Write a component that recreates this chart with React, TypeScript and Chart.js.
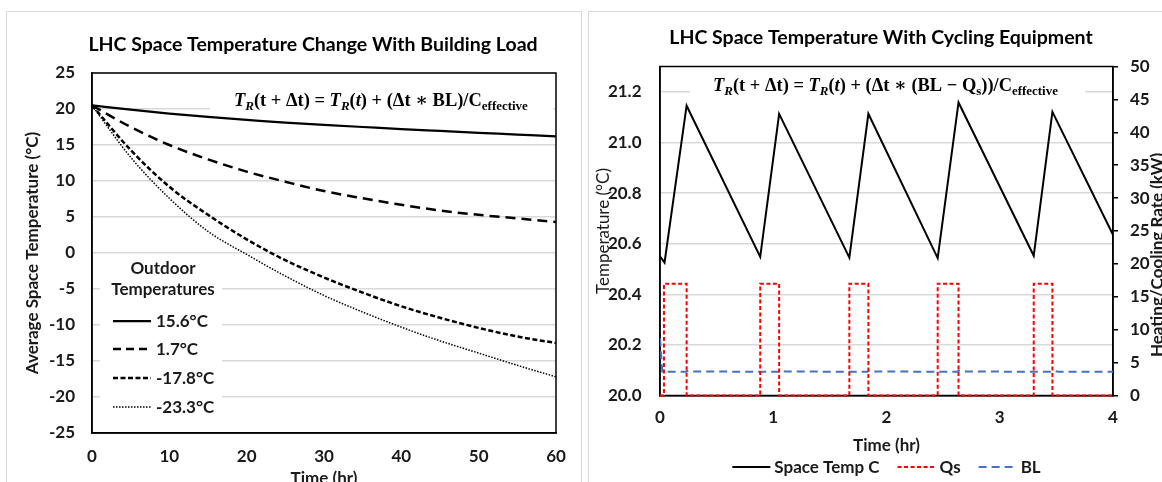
import React, { useEffect, useRef } from 'react';
import { Chart, registerables } from 'chart.js';

Chart.register(...registerables);

// ---------- Left chart data ----------
const loadTime = [0, 5, 10, 15, 20, 25, 30, 35, 40, 45, 50, 55, 60];
const temp156 = [20.5, 19.9, 19.35, 18.9, 18.5, 18.1, 17.8, 17.5, 17.2, 16.95, 16.7, 16.45, 16.2];
const temp17 = [20.5, 17.5, 15.0, 13.0, 11.3, 9.9, 8.6, 7.6, 6.7, 5.9, 5.3, 4.8, 4.3];
const temp178 = [20.5, 14.3, 9.2, 5.3, 1.9, -1.0, -3.4, -5.5, -7.4, -9.0, -10.4, -11.6, -12.5];
const temp233 = [20.5, 13.3, 7.6, 3.0, -0.2, -3.2, -5.9, -8.2, -10.3, -12.2, -13.9, -15.6, -17.2];
const outdoorLabels = ['15.6°C', '1.7°C', '-17.8°C', '-23.3°C'];

// ---------- Right chart data ----------
const cycTime = [0, 0.04, 0.235, 0.885, 1.052, 1.672, 1.84, 2.452, 2.636, 3.3, 3.465, 4.0];
const cycTemp = [20.55, 20.525, 21.145, 20.548, 21.113, 20.545, 21.113, 20.543, 21.158, 20.552, 21.121, 20.635];
const qsTime = [0, 0.035, 0.035, 0.235, 0.235, 0.885, 0.885, 1.052, 1.052, 1.672, 1.672, 1.84, 1.84, 2.452, 2.452, 2.636, 2.636, 3.3, 3.3, 3.465, 3.465, 4.0];
const qsRate = [0, 0, 17, 17, 0, 0, 17, 17, 0, 0, 17, 17, 0, 0, 17, 17, 0, 0, 17, 17, 0, 0];
const blTime = [0, 0.02, 0.23, 0.25, 0.3, 1.04, 1.06, 1.11, 1.83, 1.85, 1.9, 2.62, 2.64, 2.69, 3.45, 3.47, 3.52, 4.0];
const blRate = [8.7, 3.6, 3.6, 3.8, 3.65, 3.6, 3.8, 3.65, 3.6, 3.8, 3.65, 3.6, 3.8, 3.65, 3.6, 3.75, 3.6, 3.6];

const leftTitle = 'LHC Space Temperature Change With Building Load';
const rightTitle = 'LHC Space Temperature With Cycling Equipment';

const FONT = 'Lato, "Open Sans", sans-serif';
const SERIF = '"Liberation Serif", "DejaVu Serif", serif';
const TXT = '#1a1a1a';
const TITLE_SIZE = 19.5;
const LABEL_SIZE = 17;

const xy = (xs: number[], ys: number[]) => xs.map((x, i) => ({ x, y: ys[i] }));

type Seg = { t: string; i?: boolean; s?: boolean };

function richWidth(ctx: CanvasRenderingContext2D, segs: Seg[], size: number) {
  let w = 0;
  for (const g of segs) {
    const fs = g.s ? size * 0.7 : size;
    ctx.font = `${g.i ? 'italic ' : ''}bold ${fs}px ${SERIF}`;
    w += ctx.measureText(g.t).width;
  }
  return w;
}

function drawRich(ctx: CanvasRenderingContext2D, segs: Seg[], x: number, base: number, targetW: number) {
  const size = 16 * targetW / richWidth(ctx, segs, 16);
  let cx = x;
  ctx.textAlign = 'left';
  ctx.textBaseline = 'alphabetic';
  ctx.fillStyle = '#000';
  for (const g of segs) {
    const fs = g.s ? size * 0.7 : size;
    ctx.font = `${g.i ? 'italic ' : ''}bold ${fs}px ${SERIF}`;
    ctx.fillText(g.t, cx, base + (g.s ? size * 0.22 : 0));
    cx += ctx.measureText(g.t).width;
  }
}

const leftFormula: Seg[] = [
  { t: 'T', i: true }, { t: 'R', i: true, s: true }, { t: '(t + Δt) = ' },
  { t: 'T', i: true }, { t: 'R', i: true, s: true }, { t: '(' }, { t: 't', i: true },
  { t: ') + (Δt ∗ BL)/C' }, { t: 'effective', s: true },
];
const rightFormula: Seg[] = [
  { t: 'T', i: true }, { t: 'R', i: true, s: true }, { t: '(t + Δt) = ' },
  { t: 'T', i: true }, { t: 'R', i: true, s: true }, { t: '(' }, { t: 't', i: true },
  { t: ') + (Δt ∗ (BL − Q' }, { t: 's', s: true }, { t: '))/C' }, { t: 'effective', s: true },
];

const tickFont = { family: FONT, size: LABEL_SIZE, weight: 'bold' as const };

const leftDecor = {
  id: 'leftDecor',
  beforeDatasetsDraw(chart: any) {
    const { ctx, chartArea: a } = chart;
    ctx.save();
    ctx.fillStyle = '#fff';
    ctx.fillRect(204, 80, 343, 26);
    ctx.fillRect(94, 245, 122, 170);
    ctx.strokeStyle = '#000';
    ctx.lineWidth = 1.5;
    ctx.strokeRect(a.left, a.top, a.right - a.left, a.bottom - a.top);
    ctx.restore();
  },
  afterDraw(chart: any) {
    const { ctx } = chart;
    ctx.save();
    ctx.fillStyle = '#000';
    ctx.font = `bold ${TITLE_SIZE}px ${FONT}`;
    ctx.textAlign = 'center';
    ctx.textBaseline = 'middle';
    ctx.fillText(leftTitle, 307, 34);
    drawRich(ctx, leftFormula, 228, 95, 294);
    ctx.font = `bold ${LABEL_SIZE}px ${FONT}`;
    ctx.fillStyle = TXT;
    ctx.textAlign = 'center';
    ctx.textBaseline = 'middle';
    ctx.fillText('Outdoor', 157, 258);
    ctx.fillText('Temperatures', 157, 279);
    const ys = [310, 338, 367, 396];
    chart.data.datasets.forEach((d: any, i: number) => {
      ctx.strokeStyle = d.borderColor;
      ctx.lineWidth = d.borderWidth;
      ctx.setLineDash(d.legendDash || d.borderDash || []);
      ctx.beginPath();
      ctx.moveTo(107, ys[i]);
      ctx.lineTo(145, ys[i]);
      ctx.stroke();
      ctx.setLineDash([]);
      ctx.textAlign = 'left';
      ctx.fillText(d.label, 150, ys[i] + 1);
    });
    ctx.restore();
  },
};

const rightDecor = {
  id: 'rightDecor',
  beforeDatasetsDraw(chart: any) {
    const { ctx, chartArea: a } = chart;
    ctx.save();
    ctx.fillStyle = '#fff';
    ctx.fillRect(102, 63, 395, 26);
    ctx.strokeStyle = '#000';
    ctx.lineWidth = 1.5;
    ctx.strokeRect(a.left, a.top, a.right - a.left, a.bottom - a.top);
    ctx.restore();
  },
  afterDraw(chart: any) {
    const { ctx, chartArea: a } = chart;
    ctx.save();
    ctx.fillStyle = '#000';
    ctx.font = `bold ${TITLE_SIZE}px ${FONT}`;
    ctx.textAlign = 'center';
    ctx.textBaseline = 'middle';
    ctx.fillText(rightTitle, 293, 27);
    drawRich(ctx, rightFormula, 125, 80, 345);

    // right axis title (rotated, partly cut by the page edge)
    ctx.save();
    ctx.translate(570, 244);
    ctx.rotate(-Math.PI / 2);
    ctx.font = `bold ${LABEL_SIZE}px ${FONT}`;
    ctx.fillStyle = TXT;
    ctx.textAlign = 'center';
    ctx.textBaseline = 'middle';
    ctx.fillText('Heating/Cooling Rate (kW)', 0, 0);
    ctx.restore();

    // legend
    ctx.font = `bold ${LABEL_SIZE}px ${FONT}`;
    ctx.textBaseline = 'middle';
    ctx.textAlign = 'left';
    const ds = chart.data.datasets;
    const sample = 38, gapText = 4, gapItem = 18;
    let total = 0;
    ds.forEach((d: any, i: number) => {
      total += sample + gapText + ctx.measureText(d.label).width + (i < ds.length - 1 ? gapItem : 0);
    });
    let x = (a.left + a.right) / 2 - total / 2;
    const y = 456;
    ds.forEach((d: any) => {
      ctx.strokeStyle = d.borderColor;
      ctx.lineWidth = d.borderWidth;
      ctx.setLineDash(d.borderDash || []);
      ctx.beginPath();
      ctx.moveTo(x, y);
      ctx.lineTo(x + sample, y);
      ctx.stroke();
      ctx.setLineDash([]);
      x += sample + gapText;
      ctx.fillStyle = TXT;
      ctx.fillText(d.label, x, y + 1);
      x += ctx.measureText(d.label).width + gapItem;
    });
    ctx.restore();
  },
};

function leftConfig(): any {
  return {
    type: 'line',
    data: {
      datasets: [
        { label: outdoorLabels[0], data: xy(loadTime, temp156), borderColor: '#000', borderWidth: 2.25, borderDash: [] },
        { label: outdoorLabels[1], data: xy(loadTime, temp17), borderColor: '#000', borderWidth: 2.5, borderDash: [10, 6], legendDash: [8, 5] },
        { label: outdoorLabels[2], data: xy(loadTime, temp178), borderColor: '#000', borderWidth: 2.5, borderDash: [5, 2.5] },
        { label: outdoorLabels[3], data: xy(loadTime, temp233), borderColor: '#000', borderWidth: 1.5, borderDash: [1.5, 1.5] },
      ],
    },
    options: {
      responsive: false,
      animation: false,
      layout: { padding: { top: 62, left: 0, right: 26, bottom: 22 } },
      elements: { point: { radius: 0 }, line: { cubicInterpolationMode: 'monotone' } },
      plugins: { legend: { display: false }, title: { display: false }, tooltip: { enabled: false } },
      scales: {
        x: {
          type: 'linear', min: 0, max: 60,
          ticks: { stepSize: 10, padding: 13, font: tickFont, color: TXT },
          grid: { display: false, drawTicks: false },
          border: { color: '#000', width: 1.5 },
          title: { display: true, text: 'Time (hr)', font: tickFont, color: TXT, padding: { top: 0, bottom: 0 } },
          afterFit: (s: any) => { s.height = 56; },
        },
        y: {
          type: 'linear', min: -25, max: 25,
          ticks: { stepSize: 5, padding: 17, font: tickFont, color: TXT },
          grid: { color: '#d9d9d9', lineWidth: 1.5, drawTicks: false },
          border: { color: '#000', width: 1.5 },
          title: { display: true, text: 'Average Space Temperature (°C)', font: tickFont, color: TXT, padding: { top: 16, bottom: 0 } },
          afterFit: (s: any) => { s.width = 86; },
        },
      },
    },
    plugins: [leftDecor],
  };
}

function rightConfig(): any {
  return {
    type: 'line',
    data: {
      datasets: [
        { label: 'Space Temp C', data: xy(cycTime, cycTemp), yAxisID: 'y', borderColor: '#000', borderWidth: 2, borderDash: [], tension: 0 },
        { label: 'Qs', data: xy(qsTime, qsRate), yAxisID: 'y2', borderColor: '#ff0000', borderWidth: 2, borderDash: [4, 2.5], tension: 0, clip: 4 },
        { label: 'BL', data: xy(blTime, blRate), yAxisID: 'y2', borderColor: '#4472c4', borderWidth: 2, borderDash: [8, 5], tension: 0 },
      ],
    },
    options: {
      responsive: false,
      animation: false,
      layout: { padding: { top: 55.5, left: 0, right: 0, bottom: 55.5 } },
      elements: { point: { radius: 0 } },
      plugins: { legend: { display: false }, title: { display: false }, tooltip: { enabled: false } },
      scales: {
        x: {
          type: 'linear', min: 0, max: 4,
          ticks: { stepSize: 1, padding: 12, font: tickFont, color: TXT },
          grid: { display: false, drawTicks: false },
          border: { color: '#000', width: 1.5 },
          title: { display: true, text: 'Time (hr)', font: tickFont, color: TXT, padding: { top: 0, bottom: 0 } },
          afterFit: (s: any) => { s.height = 60; },
        },
        y: {
          type: 'linear', position: 'left', min: 20, max: 21.3,
          ticks: { stepSize: 0.2, padding: 18.5, font: tickFont, color: TXT, callback: (v: any) => Number(v).toFixed(1) },
          afterBuildTicks: (s: any) => {
            s.ticks = s.ticks.filter((t: any) => Math.abs(t.value * 5 - Math.round(t.value * 5)) < 1e-6);
          },
          grid: { color: '#d9d9d9', lineWidth: 1.5, drawTicks: false },
          border: { color: '#000', width: 1.5 },
          title: { display: true, text: 'Temperature (°C)', font: { family: FONT, size: LABEL_SIZE, weight: 'normal' }, color: TXT, padding: { top: 5, bottom: 0 } },
          afterFit: (s: any) => { s.width = 72; },
        },
        y2: {
          type: 'linear', position: 'right', min: 0, max: 50,
          ticks: { stepSize: 5, padding: 12, font: tickFont, color: TXT },
          grid: { drawOnChartArea: false, drawTicks: true, tickLength: 5, color: '#000', lineWidth: 1.5 },
          border: { color: '#000', width: 1.5 },
          afterFit: (s: any) => { s.width = 49; },
        },
      },
    },
    plugins: [rightDecor],
  };
}

export default function App() {
  const leftRef = useRef<HTMLCanvasElement>(null);
  const rightRef = useRef<HTMLCanvasElement>(null);

  useEffect(() => {
    document.body.style.margin = '0';
    document.body.style.overflow = 'hidden';
    document.documentElement.style.overflow = 'hidden';
    const c1 = new Chart(leftRef.current as HTMLCanvasElement, leftConfig());
    const c2 = new Chart(rightRef.current as HTMLCanvasElement, rightConfig());
    return () => {
      c1.destroy();
      c2.destroy();
    };
  }, []);

  return (
    <div style={{ position: 'relative', width: 1162, height: 482, overflow: 'hidden', background: '#fff' }}>
      <div style={{ position: 'absolute', left: 6, top: 11, width: 576, height: 520, border: '1px solid #d9d9d9', boxSizing: 'border-box' }} />
      <div style={{ position: 'absolute', left: 588, top: 11, width: 600, height: 520, border: '1px solid #d9d9d9', boxSizing: 'border-box' }} />
      <canvas ref={leftRef} width={576} height={500} style={{ position: 'absolute', left: 6, top: 11, display: 'block' }} />
      <canvas ref={rightRef} width={574} height={500} style={{ position: 'absolute', left: 588, top: 11, display: 'block' }} />
    </div>
  );
}
